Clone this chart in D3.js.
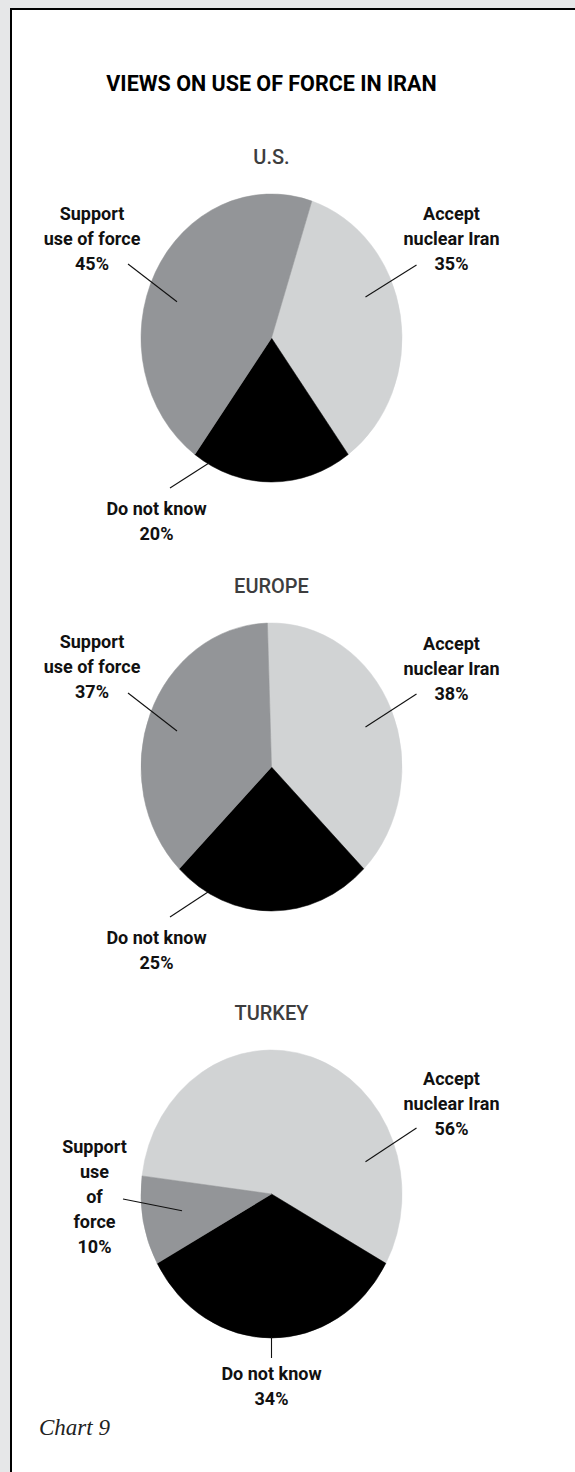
<!DOCTYPE html>
<html>
<head>
<meta charset="utf-8">
<script src="https://cdn.jsdelivr.net/npm/d3@7"></script>
<style>
  html, body { margin: 0; padding: 0; background: #e6e7e8; }
  svg { display: block; }
  .lbl { font-family: Roboto, "Liberation Sans", Arial, sans-serif; font-weight: 700; font-size: 18px; fill: #111; }
</style>
</head>
<body>
<svg id="chart" width="575" height="1472"></svg>
<script>
// Survey results: share of respondents by region
const regions = ["U.S.", "EUROPE", "TURKEY"];
const categories = ["Accept nuclear Iran", "Do not know", "Support use of force"];
const acceptNuclear = [35, 38, 56];
const doNotKnow = [20, 25, 34];
const supportForce = [45, 37, 10];

// Label wording per region (the percentage is appended from the data)
const acceptText = [["Accept", "nuclear Iran"], ["Accept", "nuclear Iran"], ["Accept", "nuclear Iran"]];
const unsureText = [["Do not know"], ["Do not know"], ["Do not know"]];
const supportText = [["Support", "use of force"], ["Support", "use of force"], ["Support", "use", "of", "force"]];

// ---- layout ----
const W = 575, H = 1472;
const cx = 271.5, rx = 130.5, ry = 144;
const centerY = [338, 767, 1194];
const lineH = 25;

const sliceColor = d3.scaleOrdinal()
  .domain(categories)
  .range(["#d1d3d4", "#000000", "#939598"]);

// label anchors (first baseline) and leader endpoints, relative to pie centre
const labelLayout = [
  { // U.S.
    "Accept nuclear Iran":  { x: 180, y: -118, from: [145, -73], to: [94, -41] },
    "Do not know":          { x: -115, y: 177, from: [-101.5, 150], to: [-62.5, 125] },
    "Support use of force": { x: -179.5, y: -118, from: [-143.5, -74], to: [-94.5, -36.3] }
  },
  { // Europe
    "Accept nuclear Iran":  { x: 180, y: -117, from: [145, -73], to: [94, -40] },
    "Do not know":          { x: -115, y: 177, from: [-101.5, 150], to: [-63.5, 125] },
    "Support use of force": { x: -179.5, y: -119, from: [-143.5, -74], to: [-94.5, -36] }
  },
  { // Turkey
    "Accept nuclear Iran":  { x: 180, y: -109, from: [145, -66], to: [94, -32.3] },
    "Do not know":          { x: 0, y: 186, from: [0, 164], to: [0, 143] },
    "Support use of force": { x: -177, y: -41, from: [-148.5, 5], to: [-89.5, 16.7] }
  }
];

const svg = d3.select("#chart");

// panel
svg.append("rect").attr("x", 0).attr("y", 0).attr("width", W).attr("height", H).attr("fill", "#e6e7e8");
svg.append("rect").attr("x", 11).attr("y", 9).attr("width", W - 11).attr("height", H - 9).attr("fill", "#ffffff");
svg.append("line").attr("x1", 11).attr("x2", 11).attr("y1", 8).attr("y2", H)
  .attr("stroke", "#000").attr("stroke-width", 2);
svg.append("line").attr("x1", 10).attr("x2", W).attr("y1", 9).attr("y2", 9)
  .attr("stroke", "#000").attr("stroke-width", 2);

// title
svg.append("text")
  .attr("x", cx).attr("y", 91)
  .attr("text-anchor", "middle")
  .style("font-family", "Roboto, 'Liberation Sans', Arial, sans-serif")
  .style("font-weight", 700).style("font-size", "21.5px").attr("fill", "#000")
  .text("VIEWS ON USE OF FORCE IN IRAN");

const arc = d3.arc().innerRadius(0).outerRadius(rx);

regions.forEach((region, i) => {
  const cy = centerY[i];
  const rows = [
    { cat: categories[0], value: acceptNuclear[i], lines: acceptText[i] },
    { cat: categories[1], value: doNotKnow[i], lines: unsureText[i] },
    { cat: categories[2], value: supportForce[i], lines: supportText[i] }
  ];
  const total = d3.sum(rows, d => d.value);
  // rotate so that the "Do not know" slice is centred at the bottom
  const start = Math.PI - (rows[0].value + rows[1].value / 2) / total * 2 * Math.PI;
  const pie = d3.pie().sort(null).value(d => d.value)
    .startAngle(start).endAngle(start + 2 * Math.PI);

  // region heading
  svg.append("text")
    .attr("x", cx).attr("y", cy - 174)
    .attr("text-anchor", "middle")
    .style("font-family", "Roboto, 'Liberation Sans', Arial, sans-serif")
    .style("font-weight", 500).style("font-size", "20px").attr("fill", "#3d3d3e")
    .text(region);

  // slices (slightly taller than wide)
  const g = svg.append("g").attr("transform", `translate(${cx},${cy}) scale(1,${ry / rx})`);
  g.selectAll("path")
    .data(pie(rows))
    .join("path")
    .attr("d", arc)
    .attr("fill", d => sliceColor(d.data.cat))
    .attr("stroke", d => sliceColor(d.data.cat))
    .attr("stroke-width", 0.5);

  // labels and leader lines
  rows.forEach(r => {
    const L = labelLayout[i][r.cat];
    svg.append("line")
      .attr("x1", cx + L.from[0]).attr("y1", cy + L.from[1])
      .attr("x2", cx + L.to[0]).attr("y2", cy + L.to[1])
      .attr("stroke", "#111").attr("stroke-width", 1.1);
    const t = svg.append("text").attr("class", "lbl").attr("text-anchor", "middle");
    r.lines.concat([r.value + "%"]).forEach((s, k) => {
      t.append("tspan").attr("x", cx + L.x).attr("y", cy + L.y + k * lineH).text(s);
    });
  });
});

// chart number
svg.append("text")
  .attr("x", 39).attr("y", 1435)
  .style("font-family", "'Liberation Serif', 'DejaVu Serif', serif")
  .style("font-style", "italic").style("font-size", "23px").attr("fill", "#222")
  .text("Chart 9");
</script>
</body>
</html>
